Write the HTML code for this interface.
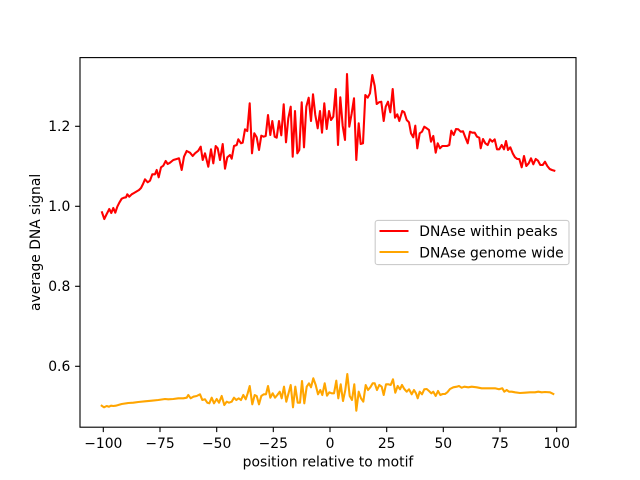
<!DOCTYPE html>
<html>
<head>
<meta charset="utf-8">
<style>
html,body{margin:0;padding:0;background:#fff;}
svg{display:block;}
text{font-family:"DejaVu Sans","Liberation Sans",sans-serif;font-size:13.89px;fill:#000;}
</style>
</head>
<body>
<svg width="640" height="480" viewBox="0 0 640 480" xmlns="http://www.w3.org/2000/svg">
<rect x="0" y="0" width="640" height="480" fill="#fff"/>
<rect x="80" y="57.6" width="496" height="369.6" fill="#fff"/>

<!-- red series -->
<polyline fill="none" stroke="#ff0000" stroke-width="2.08" stroke-linejoin="round" stroke-linecap="square" points="102,212.3 104.3,219 106.7,214 109.3,209 111.3,213 113.3,208 115.3,212.7 117.3,206.7 119.3,202.7 121.7,198.7 124,197.7 126,197.3 127.3,194.3 129.3,196.7 131.7,194.3 134,193 136.5,191.5 139,190 141,188 143,184 145,179.3 147.7,182.3 150,180.7 152.3,174.3 155,174.3 156.7,170 158.7,177.3 161,167.3 163.3,165.7 165.7,161 167.7,164 170,162.7 173.3,160 176.7,159 179,158.3 181.7,170 184,156.7 186.7,151 190,152.7 192.7,156 195,153.3 198.3,150.7 200.7,146.7 202.7,160 205,153.3 208.3,166.7 211,149.3 213.3,163.3 215.7,146 217.7,148.3 220,160 222.7,144 225,168.7 227.3,157.3 230,155 231.7,158.7 234,146 236.7,145 238.3,139.3 241,143.3 242.7,142.7 245,129.3 247.3,131 249.7,103.3 252,153.3 254.3,133.3 256.7,137.3 259,150 261.3,135.7 263.7,136.7 265.7,136 268,115 270.3,135 272.3,121 274.7,136.7 276.7,137.7 279,121 281.3,135.3 283.7,104.3 286,142.3 288.3,118.3 290.7,106.7 292.7,156.7 295,111 297.3,153.3 299.3,150 301.7,102.3 304,147.3 306.3,106.7 308.7,97.7 311,121 313,94.3 315.3,115 317.7,128.3 320,111 322,132.7 324.3,103.3 326.7,129 329,111 331,120 333.3,116.7 335.7,89 338,145 340.3,97.3 342.7,126 345,140 347,74 349.3,126.7 351.7,113.3 354,98.3 356.3,160 358.7,123.3 360.7,144 363,143.3 365.3,95 367.7,97.7 370,93.3 372.3,75 374.7,86 376.7,104 379,102.3 381.3,101.7 383.7,121 385.7,106.7 388,101.7 390.3,112.3 392.7,89 395,117.7 397.3,114.3 399.3,121 402.3,111 404.3,112.3 406.7,120 409,122.3 411,133.3 413.3,137.3 415.3,125.7 417.3,148.3 419.7,133.3 422,131.7 424.3,126.7 426.7,128.3 429,130 431,141.7 433.3,136 435.7,152.7 437.7,143.3 440,148.3 442.3,146 444.7,146 447,146 449.3,145 451.3,130.7 453.7,135 456,129 458.3,129.3 460.7,131.7 463,131.3 465.3,137.3 467.7,143.3 470,131.7 472.3,132.7 474.7,132.7 477,136.7 479.3,137.7 480.7,148.3 483,139 485.3,143.3 487.7,145 490,139.3 492.3,141.7 494.7,139.3 497,149.3 499.3,149.3 501.7,145 504,149.3 506,141 508,150 510.3,147.3 512.7,153.3 515,157.3 517.3,159 519.3,159 521.7,167.3 524,156 526.3,166 528.7,163.3 531,158.3 533.3,164.3 535.7,159 538,160.7 540.3,165 542.7,165 545,161.7 547.3,166 549.7,169 552,170 554.3,170.7"/>

<!-- orange series -->
<polyline fill="none" stroke="#ffa500" stroke-width="2.08" stroke-linejoin="round" stroke-linecap="square" points="101.7,405.7 104,407.3 106.7,406 109,406.7 111,405.7 113.3,406 115.7,405.7 118.3,405 121.7,404 128.3,403 133.3,402.7 138.3,402 145,401.3 151.7,400.7 158.3,400 165,399 168.3,399.3 173.3,399 178.3,398.3 183.3,398.3 186.7,397.7 188.3,395 190.7,398.3 193.3,396.7 196.7,396 200,394.3 202.3,400 205,399.3 207.3,402.7 209.3,403.3 211.7,397.7 214,403.3 216.7,399 219,402.7 221.7,396 224.3,405 226.7,401.7 229,402.7 231.7,401.7 234,397.7 236.3,400 238.7,398.3 241,400 243.3,395 245.7,399.3 247.7,393.3 249.7,386 252.3,404.3 254.7,395 256.7,396 259,404.3 261.3,396 263.7,394.3 266,394.3 268,386 270.3,397.7 272.7,393.3 275,397.7 277.3,395 279.7,391.7 281.7,398.3 284,386.7 286.3,401.7 288.7,392.7 290.7,385 293,407.3 295.3,386.7 297.7,402.7 300,402.7 302,381 304.3,403.3 306.7,386.7 309,383.3 311,387.3 313.3,378.3 315.7,385 318,394.3 320.3,390 322.3,395 324.7,383.3 327,395.7 329.3,392.3 331.7,393.3 334,393.3 336.3,380.7 338.3,398.3 340.7,384.3 343,401 345.3,390 347.3,374 349.7,396 352,400 354.3,384.3 356.3,410.7 358.7,391.7 361,398.3 363.3,401.7 365.7,385 368,390 370.3,387.3 372.7,383.3 374.7,383.3 377,390 379.3,385 381.7,386.7 383.7,395 386,384.3 388.3,384.3 390.7,385 393,379.3 395.3,392.7 397.7,386 400,389.3 402,385 404.3,389 406.7,391.7 409,389.3 411.7,394.3 414,390 416,393.3 417.7,398.3 419.7,391.7 422,394.3 424.3,389.3 426.7,389 429,391 431.3,393.3 433.3,391.7 435.7,396 438,391 440.3,395 442.7,394 445,394 447.3,392.3 450,389 453.3,387.3 456.7,386.7 459,386 461.7,387.7 464.3,386.7 468.3,387.3 471.7,386.7 476.7,387.3 481.7,388.3 486.7,388.3 491,388.3 495,388.3 499,389.3 502.3,388.3 504.3,391.7 506.7,390 509,391.7 511.7,391.7 515,392.3 520,393 525,392.7 530,392.3 535,392.3 538.3,391.7 541.7,392.3 545,392 550,392.3 553.3,394"/>

<!-- axes frame -->
<rect x="80" y="57.6" width="496" height="369.6" fill="none" stroke="#000" stroke-width="1.11"/>

<!-- x ticks -->
<g stroke="#000" stroke-width="1.11">
<line x1="103.3" y1="427.2" x2="103.3" y2="432.1"/>
<line x1="160" y1="427.2" x2="160" y2="432.1"/>
<line x1="216.7" y1="427.2" x2="216.7" y2="432.1"/>
<line x1="273.3" y1="427.2" x2="273.3" y2="432.1"/>
<line x1="330" y1="427.2" x2="330" y2="432.1"/>
<line x1="386.7" y1="427.2" x2="386.7" y2="432.1"/>
<line x1="443.3" y1="427.2" x2="443.3" y2="432.1"/>
<line x1="500" y1="427.2" x2="500" y2="432.1"/>
<line x1="556.7" y1="427.2" x2="556.7" y2="432.1"/>
</g>
<g text-anchor="middle">
<text x="103.3" y="448">−100</text>
<text x="160" y="448">−75</text>
<text x="216.7" y="448">−50</text>
<text x="273.3" y="448">−25</text>
<text x="330" y="448">0</text>
<text x="386.7" y="448">25</text>
<text x="443.3" y="448">50</text>
<text x="500" y="448">75</text>
<text x="556.7" y="448">100</text>
</g>

<!-- y ticks -->
<g stroke="#000" stroke-width="1.11">
<line x1="75.1" y1="126.3" x2="80" y2="126.3"/>
<line x1="75.1" y1="206.3" x2="80" y2="206.3"/>
<line x1="75.1" y1="286.3" x2="80" y2="286.3"/>
<line x1="75.1" y1="366.3" x2="80" y2="366.3"/>
</g>
<g text-anchor="end">
<text x="70.3" y="131.2">1.2</text>
<text x="70.3" y="211.2">1.0</text>
<text x="70.3" y="291.2">0.8</text>
<text x="70.3" y="371.2">0.6</text>
</g>

<!-- axis labels -->
<text x="328" y="466.5" text-anchor="middle">position relative to motif</text>
<text transform="translate(40,242.4) rotate(-90)" text-anchor="middle">average DNA signal</text>

<!-- legend -->
<rect x="375.2" y="220.4" width="193.8" height="44.2" rx="2.5" ry="2.5" fill="#fff" fill-opacity="0.8" stroke="#cccccc" stroke-width="1.11"/>
<line x1="379.5" y1="231" x2="408.5" y2="231" stroke="#ff0000" stroke-width="2.08"/>
<line x1="379.5" y1="252" x2="408.5" y2="252" stroke="#ffa500" stroke-width="2.08"/>
<text x="419.3" y="236">DNAse within peaks</text>
<text x="419.3" y="257.5">DNAse genome wide</text>
</svg>
</body>
</html>
